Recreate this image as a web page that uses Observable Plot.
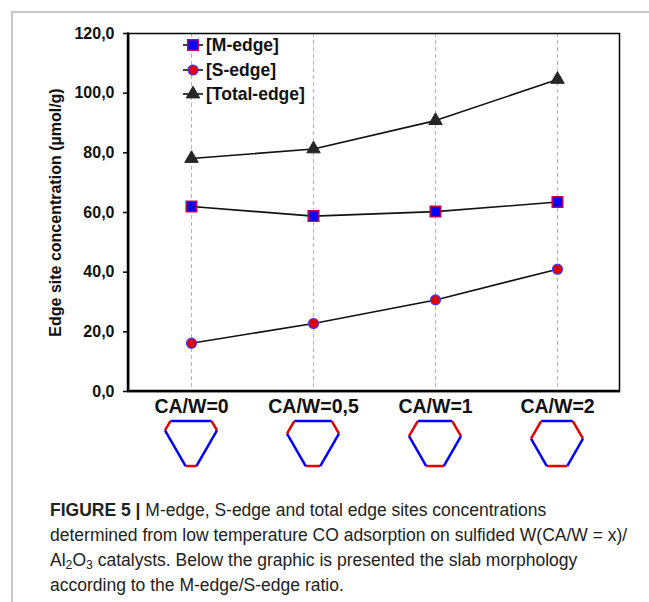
<!DOCTYPE html>
<html><head><meta charset="utf-8">
<script src="https://cdn.jsdelivr.net/npm/d3@7"></script>
<script src="https://cdn.jsdelivr.net/npm/@observablehq/plot@0.6"></script>
<style>
html,body{margin:0;padding:0;background:#fff;}
#wrap{position:relative;width:649px;height:602px;overflow:hidden;background:#fff;}
#border{position:absolute;left:11px;top:11px;width:700px;height:700px;border-left:2px solid #c8c8c8;border-top:2px solid #c8c8c8;pointer-events:none;}
#chart{position:absolute;left:0;top:0;}
#caption{position:absolute;left:50px;top:498px;font-family:"Liberation Sans",Arial,sans-serif;font-size:17.5px;line-height:25px;color:#222;white-space:nowrap;}
#caption sub{font-size:0.7em;line-height:0;vertical-align:-0.25em;}
</style></head><body>
<div id="wrap"><div id="chart"></div>
<div id="caption"><b>FIGURE 5 |</b> M-edge, S-edge and total edge sites concentrations<br>determined from low temperature CO adsorption on sulfided W(CA/W = x)/<br>Al<sub>2</sub>O<sub>3</sub> catalysts. Below the graphic is presented the slab morphology<br>according to the M-edge/S-edge ratio.</div>
<div id="border"></div>
</div>
<script>
const categories = ["CA/W=0", "CA/W=0,5", "CA/W=1", "CA/W=2"];
const mEdge = [62.0, 58.8, 60.3, 63.5];
const sEdge = [16.2, 22.8, 30.7, 41.0];
const totalEdge = [78.1, 81.3, 90.8, 104.6];
const yTicks = [0, 20, 40, 60, 80, 100, 120];
const seriesNames = ["[M-edge]", "[S-edge]", "[Total-edge]"];
const yLabel = "Edge site concentration (µmol/g)";

const rows = categories.map((c, i) => ({cat: c, m: mEdge[i], s: sEdge[i], t: totalEdge[i]}));
const fmt = d => d.toFixed(1).replace(".", ",");

const styles = {
  m: {symbol: "square", r: 6, fill: "#0000ff", stroke: "#c8004a", strokeWidth: 1.4},
  s: {symbol: "circle", r: 5, fill: "#e00000", stroke: "#3a3aff", strokeWidth: 1.2},
  t: {symbol: "triangle", r: 5, fill: "#262626", stroke: "#262626", strokeWidth: 1}
};

function axisLines(index, scales, values, dims) {
  const g = d3.create("svg:g").attr("stroke", "black").attr("stroke-width", 2.5);
  const x0 = dims.marginLeft, y1 = dims.height - dims.marginBottom;
  g.append("line").attr("x1", x0).attr("x2", x0).attr("y1", dims.marginTop - 0.5).attr("y2", y1 + 1);
  g.append("line").attr("x1", x0 - 1).attr("x2", dims.width - dims.marginRight + 1).attr("y1", y1).attr("y2", y1);
  return g.node();
}

function legendMark(index, scales, values, dims) {
  const g = d3.create("svg:g").attr("text-anchor", "start");
  const xm = dims.marginLeft + 65;
  const ys = [12, 37, 61].map(v => dims.marginTop + v);
  const keys = ["m", "s", "t"];
  const symMap = {square: d3.symbolSquare, circle: d3.symbolCircle, triangle: d3.symbolTriangle};
  keys.forEach((k, i) => {
    const st = styles[k];
    const y = ys[i];
    g.append("line").attr("x1", xm - 10).attr("x2", xm + 10).attr("y1", y).attr("y2", y)
      .attr("stroke", "#111").attr("stroke-width", 1.6);
    g.append("path").attr("transform", `translate(${xm},${y})`)
      .attr("d", d3.symbol(symMap[st.symbol], st.r * st.r * Math.PI)())
      .attr("fill", st.fill).attr("stroke", st.stroke).attr("stroke-width", st.strokeWidth);
    g.append("text").attr("x", xm + 13).attr("y", y).attr("dy", "0.35em")
      .attr("text-anchor", "start")
      .attr("font-size", 17.5).attr("font-weight", "bold").attr("fill", "#111")
      .text(seriesNames[i]);
  });
  return g.node();
}

function slabMark(index, scales, values, dims) {
  const g = d3.create("svg:g").attr("fill", "none").attr("stroke-width", 2.5);
  const yTop = dims.height - dims.marginBottom + 30;
  const total = 52;
  const h = Math.sqrt(3) / 2;
  categories.forEach((c, i) => {
    const r = mEdge[i] / sEdge[i];
    const a = total * r / (1 + r), b = total / (1 + r);
    const cx = scales.x(c);
    let p = [cx - a / 2, yTop];
    const dirs = [[1, 0, a, "M"], [0.5, h, b, "S"], [-0.5, h, a, "M"], [-1, 0, b, "S"], [-0.5, -h, a, "M"], [0.5, -h, b, "S"]];
    for (const [dx, dy, len, k] of dirs) {
      const q = [p[0] + dx * len, p[1] + dy * len];
      g.append("line").attr("x1", p[0]).attr("y1", p[1]).attr("x2", q[0]).attr("y2", q[1])
        .attr("stroke", k === "M" ? "#0000ff" : "#e00000");
      p = q;
    }
  });
  return g.node();
}

const chart = Plot.plot({
  width: 649,
  height: 480,
  marginLeft: 128,
  marginRight: 30,
  marginTop: 33,
  marginBottom: 89,
  style: {fontFamily: "'Liberation Sans', Arial, sans-serif", color: "#111", background: "transparent"},
  x: {type: "point", domain: categories, padding: 0.5},
  y: {domain: [0, 120]},
  marks: [
    Plot.ruleX(categories, {stroke: "#b4b4b4", strokeWidth: 1, strokeDasharray: "4,3"}),
    Plot.line(rows, {x: "cat", y: "m", stroke: "#111", strokeWidth: 1.6}),
    Plot.line(rows, {x: "cat", y: "s", stroke: "#111", strokeWidth: 1.6}),
    Plot.line(rows, {x: "cat", y: "t", stroke: "#111", strokeWidth: 1.6}),
    Plot.dot(rows, {x: "cat", y: "m", ...styles.m}),
    Plot.dot(rows, {x: "cat", y: "s", ...styles.s}),
    Plot.dot(rows, {x: "cat", y: "t", ...styles.t}),
    Plot.frame({stroke: "black", strokeWidth: 1.5}),
    axisLines,
    Plot.axisY(yTicks, {tickFormat: fmt, tickSize: 5, tickPadding: 9, fontSize: 16, fontWeight: "bold", stroke: "black", strokeWidth: 1.5, label: null}),
    Plot.axisX({tickSize: 0, tickPadding: 8, fontSize: 19.5, fontWeight: "bold", label: null}),
    Plot.text([yLabel], {text: d => d, frameAnchor: "left", textAnchor: "middle", dx: -73, rotate: -90, fontSize: 16, fontWeight: "bold", fill: "#111"}),
    legendMark,
    slabMark
  ]
});
document.getElementById("chart").appendChild(chart);
</script>
</body></html>
